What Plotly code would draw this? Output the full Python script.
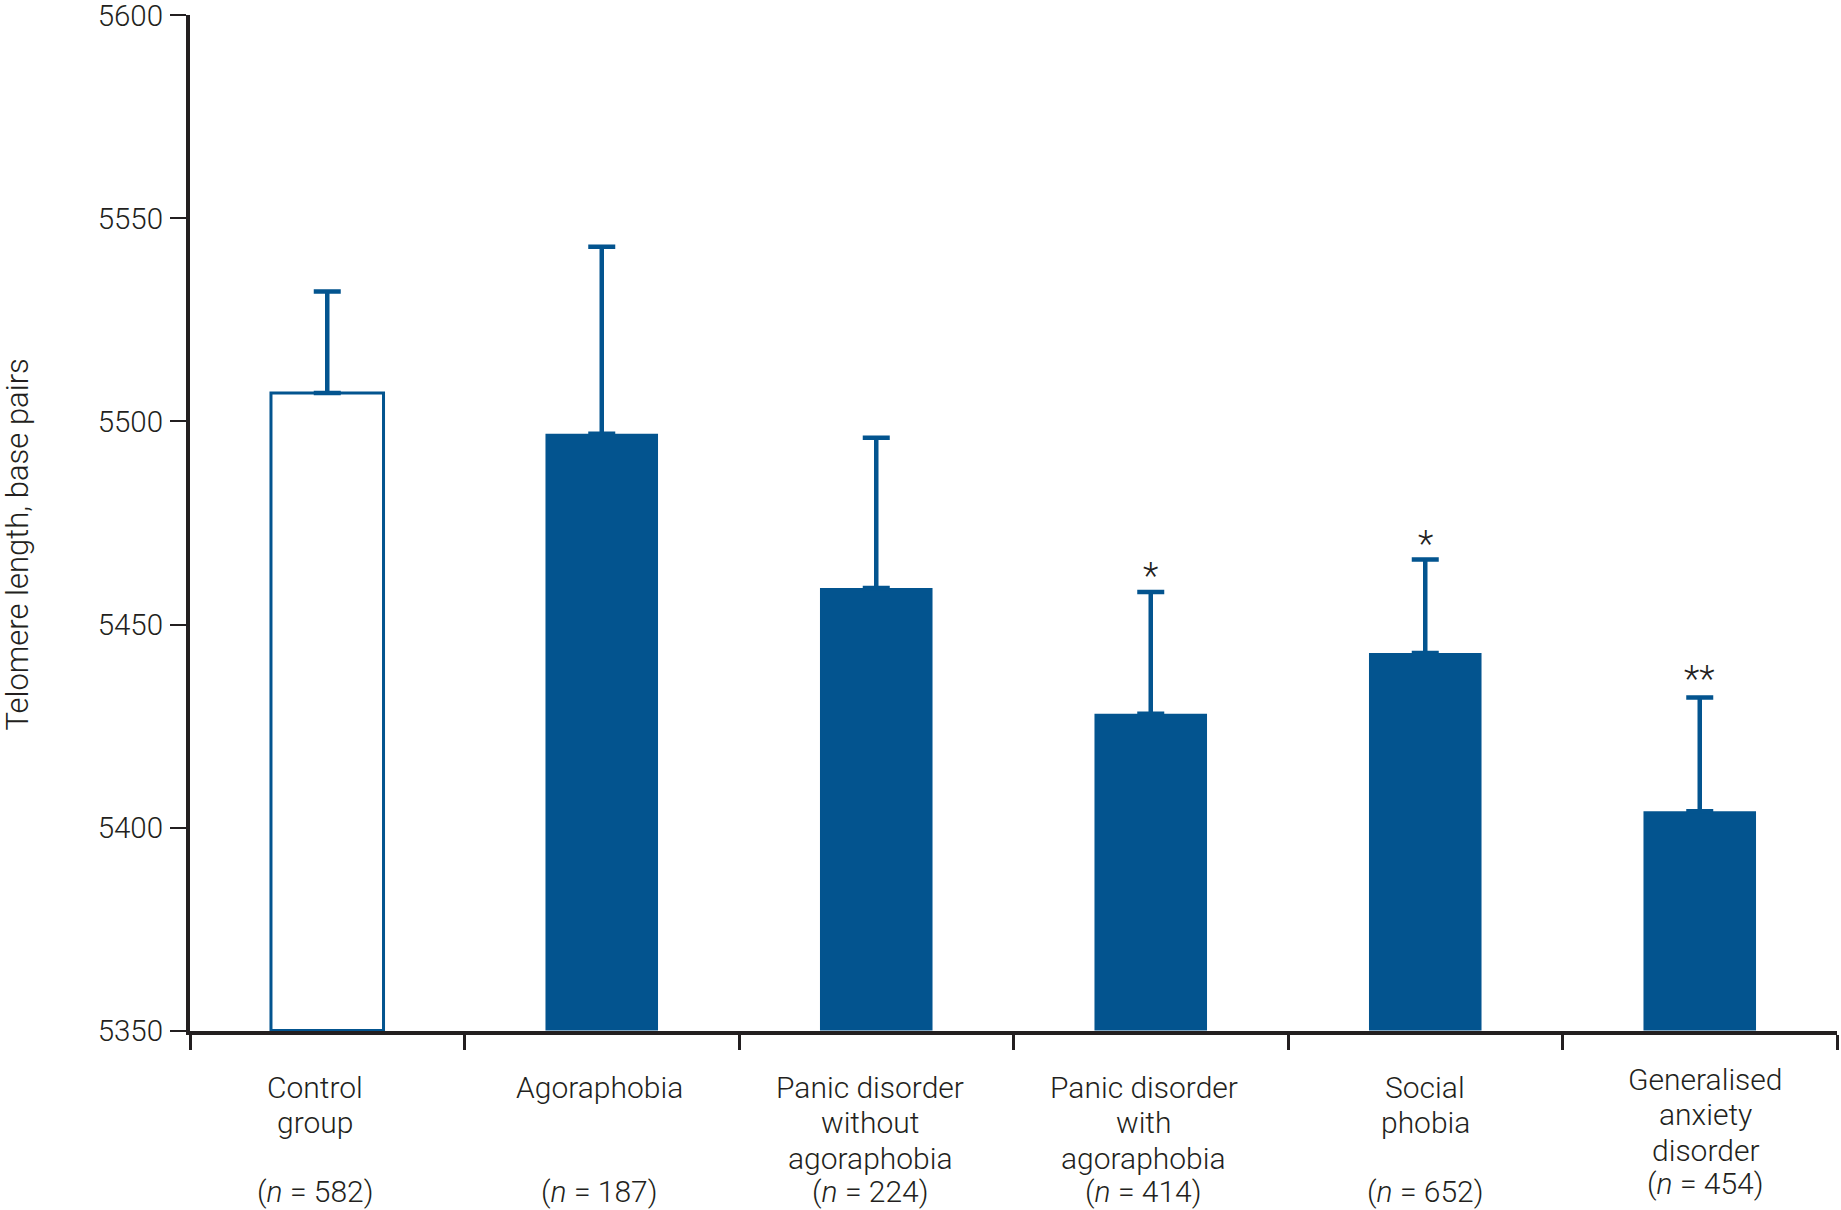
import plotly.graph_objects as go

categories = ["Control group", "Agoraphobia", "Panic disorder without agoraphobia",
              "Panic disorder with agoraphobia", "Social phobia", "Generalised anxiety disorder"]
label_lines = [
    ["Control", "group", "", "(<i>n</i> = 582)"],
    ["Agoraphobia", "", "", "(<i>n</i> = 187)"],
    ["Panic disorder", "without", "agoraphobia", "(<i>n</i> = 224)"],
    ["Panic disorder", "with", "agoraphobia", "(<i>n</i> = 414)"],
    ["Social", "phobia", "", "(<i>n</i> = 652)"],
    ["Generalised", "anxiety", "disorder", "(<i>n</i> = 454)"],
]
means = [5507, 5497, 5459, 5428, 5443, 5404]
errors = [25, 46, 37, 30, 23, 28]
significance = ["", "", "", "*", "*", "**"]
y_ticks = [5350, 5400, 5450, 5500, 5550, 5600]
y_title = "Telomere length, base pairs"

# layout-only offsets (pixels)
label_xshift = [-12, -2, -6, -7, 0, 6]
label_yshift = [0, 0, 0, 0, 0, 8]
line_offsets = [-56, -91.5, -127, -160]
star_shift = [0, 0, 0, 16, 16, 19]

BLUE = "#03548f"
INK = "#231f20"
FONT = "Roboto, Liberation Sans, Arial, sans-serif"
W = 300

fill = ["white"] + [BLUE] * (len(categories) - 1)
line_w = [3] + [0] * (len(categories) - 1)

fig = go.Figure()
fig.add_trace(go.Bar(
    x=categories, y=[m - y_ticks[0] for m in means], base=y_ticks[0],
    marker=dict(color=fill, line=dict(color=BLUE, width=line_w)),
    error_y=dict(type="data", symmetric=False, array=errors,
                 arrayminus=[0] * len(errors), color=BLUE, thickness=4.5, width=13.5),
    width=0.41, showlegend=False, hoverinfo="skip",
))

annotations = []
for cat, lines, xs, ys in zip(categories, label_lines, label_xshift, label_yshift):
    for txt, off in zip(lines, line_offsets):
        if not txt:
            continue
        annotations.append(dict(
            x=cat, xref="x", y=0, yref="paper", yanchor="middle", xanchor="center",
            xshift=xs, yshift=off + ys, text=txt, showarrow=False, borderpad=0,
            font=dict(size=30, color=INK, family=FONT, weight=W),
        ))
for cat, m, e, s, sh in zip(categories, means, errors, significance, star_shift):
    if s:
        annotations.append(dict(
            x=cat, xref="x", y=m + e, yref="y", yanchor="middle", xanchor="center",
            yshift=sh, text=s, showarrow=False, borderpad=0,
            font=dict(size=36, color=INK, family=FONT, weight=W),
        ))
annotations.append(dict(
    x=-0.1053, xref="paper", y=0.4783, yref="paper", xanchor="center", yanchor="middle",
    text=y_title, textangle=-90, showarrow=False, borderpad=0,
    font=dict(size=31, color=INK, family=FONT, weight=W),
))

fig.update_layout(
    width=1841, height=1210,
    margin=dict(l=190, r=4, t=15, b=179, autoexpand=False),
    paper_bgcolor="white", plot_bgcolor="white",
    font=dict(family=FONT, color=INK, size=29, weight=W),
    annotations=annotations,
    xaxis=dict(
        type="category", range=[-0.5, 5.5], tickson="boundaries", automargin=False,
        showticklabels=False, ticks="outside", ticklen=15, tickwidth=2.5, tickcolor=INK,
        showline=True, linewidth=4, linecolor=INK, showgrid=False, zeroline=False,
    ),
    yaxis=dict(
        range=[5349.9, 5600.1], tickvals=y_ticks, ticks="outside", ticklen=16,
        tickwidth=2, tickcolor=INK, showline=True, linewidth=4, linecolor=INK,
        showgrid=False, zeroline=False, automargin=False,
        tickfont=dict(size=29.5, color=INK, family=FONT, weight=W),
        ticklabelstandoff=1, ticklabeloverflow="allow",
    ),
)

fig.write_html("out.html", config={"displayModeBar": False},
               post_script="document.body.style.margin='0px';")
